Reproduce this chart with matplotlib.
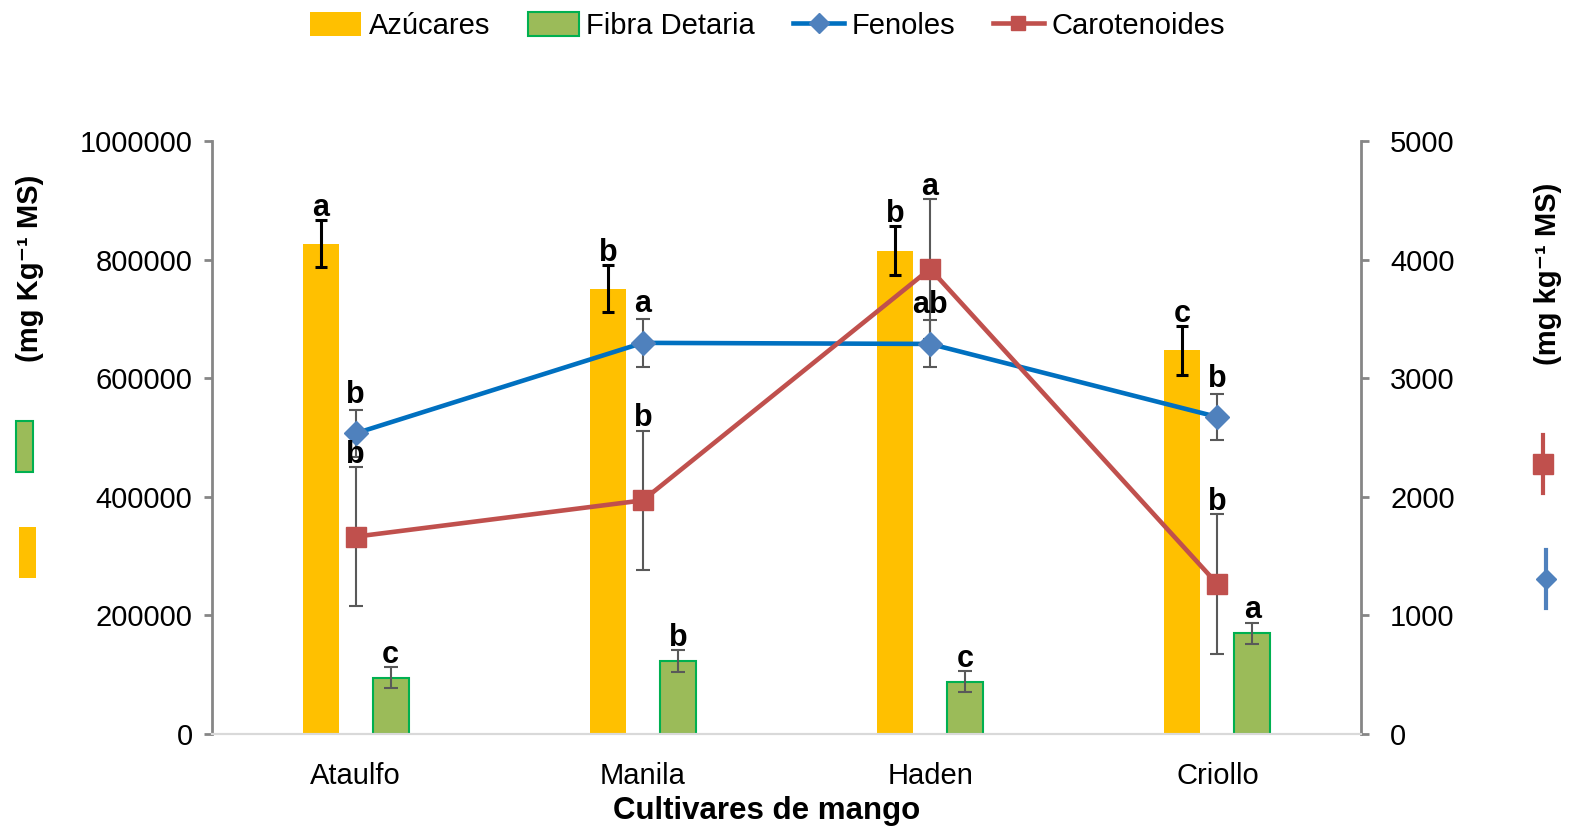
import matplotlib
matplotlib.use("Agg")
import matplotlib.pyplot as plt
import numpy as np
from matplotlib.patches import Rectangle, Patch
from matplotlib.lines import Line2D
from matplotlib.ticker import FuncFormatter

plt.rcParams['font.family'] = ['Liberation Sans', 'DejaVu Sans']

# Datos por cultivar
cultivares = ['Ataulfo', 'Manila', 'Haden', 'Criollo']
azucares = [827000, 751000, 815000, 647000]
azucares_err = [40000, 40000, 41000, 41000]
azucares_let = ['a', 'b', 'b', 'c']
fibra = [95000, 123000, 88000, 170000]
fibra_err = [18000, 18000, 18000, 18000]
fibra_let = ['c', 'b', 'c', 'a']
fenoles = [2535, 3298, 3289, 2673]
fenoles_err = [198, 200, 198, 196]
fenoles_let = ['b', 'a', 'ab', 'b']
carotenoides = [1664, 1970, 3922, 1265]
carotenoides_err = [588, 588, 588, 588]
carotenoides_let = ['b', 'b', 'a', 'b']

AMARILLO = '#FFC000'
VERDE = '#9BBB59'
BORDE_VERDE = '#00B050'
AZUL_LINEA = '#0070C0'
AZUL_MARCA = '#4F81BD'
ROJO = '#C0504D'
GRIS = '#595959'
EJE = '#868686'

fs = 21
fs_letra = 22
W, H = 1573, 832

fig = plt.figure(figsize=(15.73, 8.32), dpi=100)
ax = fig.add_axes([212 / W, 1 - 734 / H, 1149 / W, 593 / H])
ax2 = ax.twinx()

x = np.arange(len(cultivares))
desp = 0.122
ancho = 0.125

# Barras: azucares y fibra (eje izquierdo)
ax.bar(x - desp, azucares, ancho, color=AMARILLO, zorder=2)
ax.errorbar(x - desp, azucares, yerr=azucares_err, fmt='none', ecolor='black',
            elinewidth=2.2, capsize=4.6, capthick=2.2, zorder=3)
ax.bar(x + desp, fibra, ancho, color=VERDE, edgecolor=BORDE_VERDE, linewidth=1.5, zorder=2)
ax.errorbar(x + desp, fibra, yerr=fibra_err, fmt='none', ecolor=GRIS,
            elinewidth=1.5, capsize=5, capthick=1.5, zorder=3)

for xi, v, e, t in zip(x - desp, azucares, azucares_err, azucares_let):
    ax.annotate(t, (xi, v + e), xytext=(0, 3), textcoords='offset points',
                ha='center', va='baseline', fontsize=fs_letra, fontweight='bold', zorder=5)
for xi, v, e, t in zip(x + desp, fibra, fibra_err, fibra_let):
    ax.annotate(t, (xi, v + e), xytext=(0, 3), textcoords='offset points',
                ha='center', va='baseline', fontsize=fs_letra, fontweight='bold', zorder=5)

# Lineas: fenoles y carotenoides (eje derecho)
ax2.errorbar(x, fenoles, yerr=fenoles_err, fmt='none', ecolor=GRIS,
             elinewidth=1.5, capsize=5, capthick=1.5, zorder=2)
ax2.errorbar(x, carotenoides, yerr=carotenoides_err, fmt='none', ecolor=GRIS,
             elinewidth=1.5, capsize=5, capthick=1.5, zorder=2)
ax2.plot(x, fenoles, color=AZUL_LINEA, lw=3.3, marker='D', markersize=12,
         markerfacecolor=AZUL_MARCA, markeredgecolor=AZUL_MARCA, zorder=3)
ax2.plot(x, carotenoides, color=ROJO, lw=3.3, marker='s', markersize=14,
         markerfacecolor=ROJO, markeredgecolor=ROJO, zorder=4)

for xi, v, e, t in zip(x, fenoles, fenoles_err, fenoles_let):
    ax2.annotate(t, (xi, v + e), xytext=(0, 5), textcoords='offset points',
                 ha='center', va='baseline', fontsize=fs_letra, fontweight='bold', zorder=5)
for xi, v, e, t in zip(x, carotenoides, carotenoides_err, carotenoides_let):
    ax2.annotate(t, (xi, v + e), xytext=(0, 3), textcoords='offset points',
                 ha='center', va='baseline', fontsize=fs_letra, fontweight='bold', zorder=5)

# Ejes
ax.set_xlim(-0.5, 3.5)
ax.set_ylim(0, 1000000)
ax2.set_ylim(0, 5000)
ax.set_yticks(np.arange(0, 1000001, 200000))
ax2.set_yticks(np.arange(0, 5001, 1000))
ax.yaxis.set_major_formatter(FuncFormatter(lambda v, p: '%d' % v))
ax2.yaxis.set_major_formatter(FuncFormatter(lambda v, p: '%d' % v))
ax.set_xticks(x)
ax.set_xticklabels(cultivares)

for a in (ax, ax2):
    a.spines['top'].set_visible(False)
    a.spines['bottom'].set_color('#D9D9D9')
    a.spines['bottom'].set_linewidth(1.5)
ax.spines['right'].set_visible(False)
ax2.spines['left'].set_visible(False)
ax.spines['left'].set_color(EJE)
ax.spines['left'].set_linewidth(2)
ax2.spines['right'].set_color(EJE)
ax2.spines['right'].set_linewidth(2)

ax.tick_params(axis='y', length=6, width=2, color=EJE, labelsize=fs, pad=8)
ax2.tick_params(axis='y', length=6, width=2, color=EJE, labelsize=fs, pad=15)
ax.tick_params(axis='x', length=0, labelsize=fs, pad=20)

ax.set_xlabel('Cultivares de mango', fontsize=22.5, fontweight='bold')
ax.xaxis.set_label_coords((767 - 212) / 1149, -(811 - 734) / 593)
ax.xaxis.label.set_va('center')

# Titulos de ejes verticales con sus claves
fig.text(30 / W, 1 - 268 / H, '(mg Kg\u207b\u00b9 MS)', rotation=90,
         ha='center', va='center', fontsize=fs, fontweight='bold')
fig.text(1548 / W, 1 - 274 / H, '(mg kg\u207b\u00b9 MS)', rotation=90,
         ha='center', va='center', fontsize=fs, fontweight='bold')

fig.patches.append(Rectangle((16 / W, 1 - 472 / H), 17 / W, 51 / H, transform=fig.transFigure,
                             facecolor=VERDE, edgecolor=BORDE_VERDE, linewidth=1.5))
fig.patches.append(Rectangle((19 / W, 1 - 578 / H), 17 / W, 51 / H, transform=fig.transFigure,
                             facecolor=AMARILLO, edgecolor='none'))
fig.add_artist(Line2D([1543 / W, 1543 / W], [1 - 493 / H, 1 - 435 / H], transform=fig.transFigure,
                      color=ROJO, lw=3))
fig.add_artist(Line2D([1543 / W], [1 - 464 / H], transform=fig.transFigure, color=ROJO,
                      marker='s', markersize=14, linestyle='none'))
fig.add_artist(Line2D([1546 / W, 1546 / W], [1 - 608 / H, 1 - 550 / H], transform=fig.transFigure,
                      color=AZUL_MARCA, lw=3))
fig.add_artist(Line2D([1546 / W], [1 - 579 / H], transform=fig.transFigure, color=AZUL_MARCA,
                      marker='D', markersize=10, linestyle='none'))

# Leyenda superior
handles = [
    Patch(facecolor=AMARILLO, edgecolor='none', label='Azúcares'),
    Patch(facecolor=VERDE, edgecolor=BORDE_VERDE, linewidth=1.5, label='Fibra Detaria'),
    Line2D([], [], color=AZUL_LINEA, lw=3.3, marker='D', markersize=10,
           markerfacecolor=AZUL_MARCA, markeredgecolor=AZUL_MARCA, label='Fenoles'),
    Line2D([], [], color=ROJO, lw=3.3, marker='s', markersize=10, label='Carotenoides'),
]
fig.legend(handles=handles, loc='center', bbox_to_anchor=(0.488, 1 - 26 / H), ncol=4,
           frameon=False, fontsize=fs, handlelength=1.75, handleheight=0.9,
           handletextpad=0.25, columnspacing=1.3)

fig.savefig('out.png', dpi=100)
